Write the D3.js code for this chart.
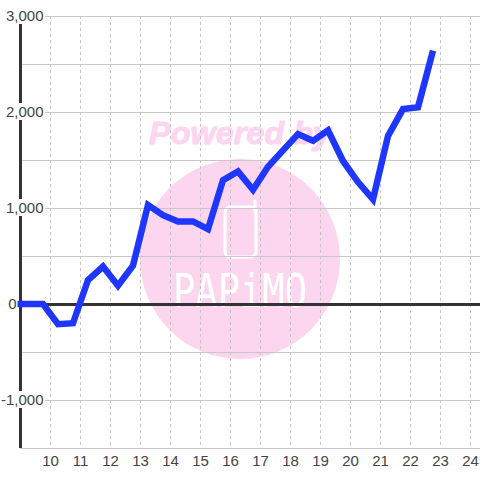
<!DOCTYPE html>
<html><head><meta charset="utf-8">
<script src="https://cdn.jsdelivr.net/npm/d3@7"></script>
<style>html,body{margin:0;padding:0;background:#fff}svg{display:block}text{font-family:"Liberation Sans",Arial,sans-serif}</style>
</head><body><svg id="c" width="480" height="480"></svg>
<script>
const hours=[8.9,9.75,10.25,10.75,11.25,11.75,12.25,12.75,13.25,13.75,14.25,14.75,15.25,15.75,16.25,16.75,17.25,17.75,18.25,18.75,19.25,19.75,20.25,20.75,21.25,21.75,22.25,22.75];
const values=[0,0,-210,-200,250,390,190,400,1030,925,860,860,780,1290,1380,1190,1430,1600,1770,1700,1810,1490,1270,1090,1750,2030,2050,2640];
const xTicks=[10,11,12,13,14,15,16,17,18,19,20,21,22,23,24];
const yLabelled=[3000,2000,1000,0,-1000];
const yMinor=[2500,1500,500,-500,-1500];
const watermarkTop="Powered by";
const watermarkName="PAPiMO";

const svg=d3.select("#c");
const x=d3.scaleLinear().domain([9,25]).range([20.5,500.5]);
const y=d3.scaleLinear().domain([3000,-1500]).range([16,448]);
const fmt=d3.format(",");

const wm=svg.append("g");
const pink="#fcd6ee";
wm.append("circle").attr("cx",240).attr("cy",259).attr("r",100).attr("fill",pink);
wm.append("text").attr("x",240).attr("y",144).attr("text-anchor","middle").attr("font-size",32).attr("textLength",182).attr("lengthAdjust","spacingAndGlyphs").attr("font-weight",700).attr("font-style","italic").attr("fill",pink).attr("stroke",pink).attr("stroke-width",1).text(watermarkTop);
wm.append("rect").attr("x",225).attr("y",207).attr("width",31).attr("height",50).attr("rx",5).attr("fill","none").attr("stroke","#fff").attr("stroke-width",3);
wm.append("path").attr("d","M255 212V201").attr("stroke","#fff").attr("stroke-width",3).attr("stroke-linecap","round");
wm.append("text").attr("x",240).attr("y",307).attr("text-anchor","middle").attr("font-size",46).attr("textLength",134).attr("lengthAdjust","spacingAndGlyphs").attr("fill","#fff").style("font-family","'DejaVu Sans Mono'").text(watermarkName);

const grid=svg.append("g");
grid.selectAll("line.v").data(xTicks).join("line").attr("class","v")
 .attr("x1",d=>x(d)).attr("x2",d=>x(d)).attr("y1",y(3000)).attr("y2",y(-1500)-2)
 .attr("stroke","#c4c4c4").attr("stroke-dasharray","3 3");
grid.selectAll("line.h").data(yLabelled.concat(yMinor)).join("line").attr("class","h")
 .attr("x1",20).attr("x2",480).attr("y1",d=>y(d)+.5).attr("y2",d=>y(d)+.5)
 .attr("stroke","#c8c8c8");

svg.append("line").attr("x1",20.5).attr("x2",20.5).attr("y1",y(3000)).attr("y2",y(-1500)).attr("stroke","#333").attr("stroke-width",3);
svg.append("line").attr("x1",20).attr("x2",480).attr("y1",y(0)+.5).attr("y2",y(0)+.5).attr("stroke","#333").attr("stroke-width",3);

const yl=svg.append("g");
yl.selectAll("rect").data(yLabelled.filter(d=>d!==0)).join("rect").attr("x",0).attr("width",45).attr("y",d=>y(d)-9).attr("height",17).attr("fill","#fff");
yl.selectAll("text").data(yLabelled).join("text").attr("x",d=>d===0?16.5:43.5).attr("y",d=>y(d)+5).attr("text-anchor","end").attr("font-size",15).attr("fill","#444").text(d=>fmt(d).replace("\u2212","-"));
svg.append("g").selectAll("text").data(xTicks).join("text").attr("x",d=>x(d)).attr("y",466).attr("text-anchor","middle").attr("font-size",15).attr("fill","#444").text(d=>d);

svg.append("path").datum(hours.map((h,i)=>[h,values[i]]))
 .attr("d",d3.line().x(d=>x(d[0])).y(d=>y(d[1])))
 .attr("fill","none").attr("stroke","#1f36ff").attr("stroke-width",6.5).attr("stroke-linejoin","miter");
</script></body></html>
